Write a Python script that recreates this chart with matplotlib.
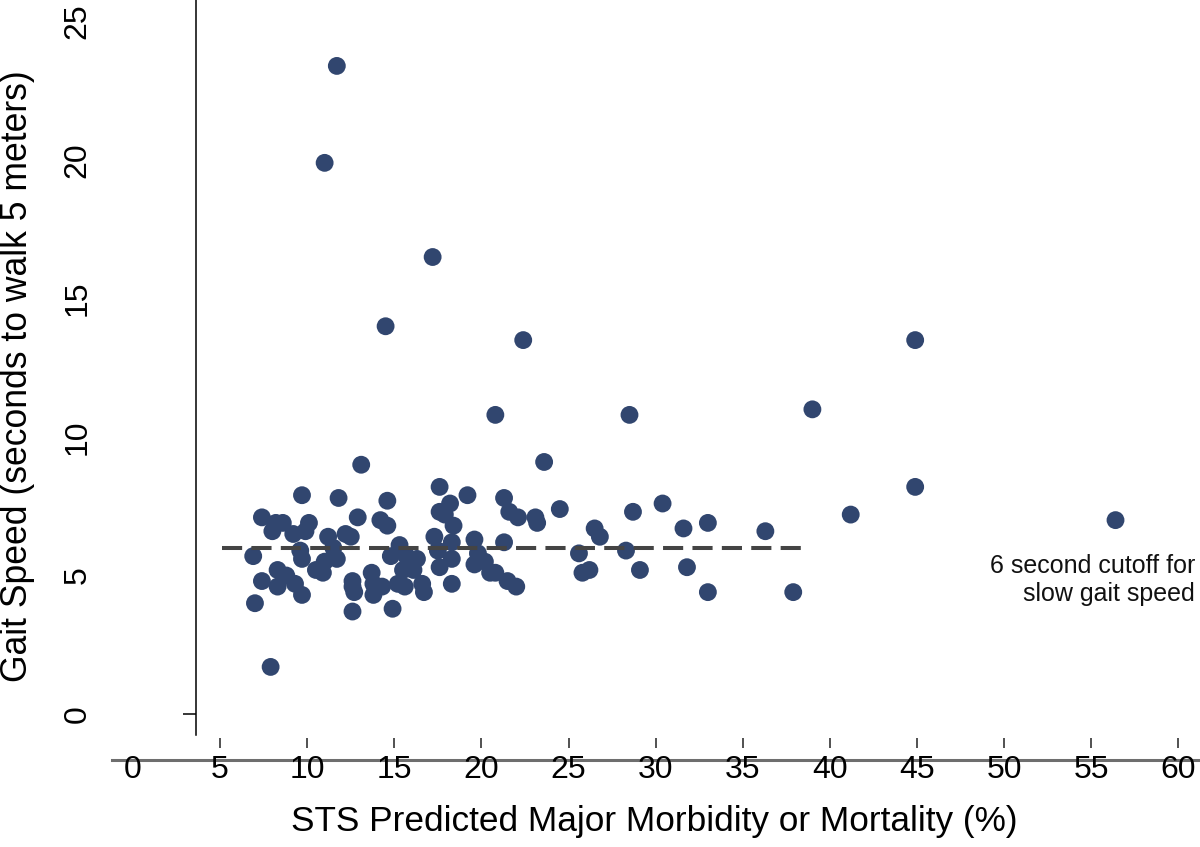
import numpy as np
import matplotlib.pyplot as plt

plt.rcParams['font.family'] = ['Liberation Sans', 'DejaVu Sans']

# STS predicted risk (%) vs. seconds to walk 5 m
sts_risk = [11.7, 11.0, 17.2, 14.5, 22.4, 44.9, 39.0, 28.5, 20.8, 23.6,
            13.1, 44.9, 41.2, 56.4, 30.4, 28.7, 24.5, 23.1, 23.2, 21.3,
            21.6, 22.1, 21.3, 20.8, 21.5, 22.0, 26.5, 26.8, 25.6, 25.8,
            26.2, 28.3, 29.1, 31.6, 33.0, 36.3, 31.8, 33.0, 37.9, 20.2,
            9.7, 11.8, 14.6, 17.6, 19.2, 7.4, 8.2, 8.6, 8.0, 9.2,
            9.9, 10.1, 12.9, 14.2, 14.6, 17.6, 18.2, 18.4, 17.9, 11.2,
            11.5, 12.2, 12.5, 6.9, 9.6, 9.7, 11.0, 11.7, 10.5, 10.9,
            8.3, 8.8, 9.3, 7.4, 8.3, 9.7, 7.0, 12.6, 12.6, 12.7,
            13.7, 13.8, 13.8, 14.3, 12.6, 14.9, 14.8, 15.3, 15.7, 15.5,
            16.1, 16.3, 16.6, 15.2, 15.8, 15.6, 16.7, 17.3, 17.5, 17.6,
            18.3, 18.3, 18.3, 19.6, 19.8, 19.6, 20.5, 7.9]
gait_sec = [23.4, 19.9, 16.5, 14.0, 13.5, 13.5, 11.0, 10.8, 10.8, 9.1,
            9.0, 8.2, 7.2, 7.0, 7.6, 7.3, 7.4, 7.1, 6.9, 7.8,
            7.3, 7.1, 6.2, 5.1, 4.8, 4.6, 6.7, 6.4, 5.8, 5.1,
            5.2, 5.9, 5.2, 6.7, 6.9, 6.6, 5.3, 4.4, 4.4, 5.5,
            7.9, 7.8, 7.7, 8.2, 7.9, 7.1, 6.9, 6.9, 6.6, 6.5,
            6.6, 6.9, 7.1, 7.0, 6.8, 7.3, 7.6, 6.8, 7.2, 6.4,
            6.0, 6.5, 6.4, 5.7, 5.9, 5.6, 5.5, 5.6, 5.2, 5.1,
            5.2, 5.0, 4.7, 4.8, 4.6, 4.3, 4.0, 4.8, 4.6, 4.4,
            5.1, 4.7, 4.3, 4.6, 3.7, 3.8, 5.7, 6.1, 5.7, 5.2,
            5.2, 5.6, 4.7, 4.7, 5.3, 4.6, 4.4, 6.4, 5.9, 5.3,
            6.2, 5.6, 4.7, 6.3, 5.8, 5.4, 5.1, 1.7]

cutoff_x = [5.1, 38.6]
cutoff_y = 6

x_ticks = list(range(0, 61, 5))
y_ticks = list(range(0, 26, 5))

fig = plt.figure(figsize=(12, 8.47), dpi=100)
ax = fig.add_axes([112 / 1200, 87 / 847, 1088 / 1200, 760 / 847])
ax.set_xlim(-1.206, 61.25)
ax.set_ylim(-1.661, 25.78)

ax.scatter(sts_risk, gait_sec, s=165, color='#31466f', edgecolors='none', zorder=2)
ax.plot(cutoff_x, [cutoff_y, cutoff_y], color='#444444', lw=2.9,
        dashes=(5, 2.3), zorder=3)

ax.text(60.96, 4.84, '6 second cutoff for\nslow gait speed', ha='right', va='center',
        multialignment='right', fontsize=18, linespacing=1.2, color='#111111')

# axes styling
ax.spines['top'].set_visible(False)
ax.spines['right'].set_visible(False)
ax.spines['bottom'].set_position(('data', -1.227))
ax.spines['bottom'].set_color('none')
ax.spines['left'].set_position(('data', 3.62))
ax.spines['left'].set_bounds(-0.76, 25.78)
ax.spines['left'].set_linewidth(1.1)

ax.axhline(ax.get_ylim()[0], color='#6e6e6e', lw=2.2, clip_on=False, zorder=1)

ax.set_xticks(x_ticks)
ax.tick_params(axis='x', direction='in', length=7.2, width=1.1, color='#222222',
               labelsize=23, pad=5)
ax.xaxis.get_major_ticks()[0].tick1line.set_visible(False)

ax.set_yticks(y_ticks)
ax.tick_params(axis='y', direction='out', length=9.4, width=1.1, labelsize=23,
               pad=65, labelrotation=90)
for lab in ax.get_yticklabels():
    lab.set_va('center')
for t in ax.yaxis.get_major_ticks()[1:]:
    t.tick1line.set_visible(False)

ax.set_xlabel('STS Predicted Major Morbidity or Mortality (%)', fontsize=25.4)
ax.xaxis.set_label_coords(654 / 1200, 1 - 805 / 847, transform=fig.transFigure)
ax.set_ylabel('Gait Speed (seconds to walk 5 meters)', fontsize=25.6)
ax.yaxis.set_label_coords(18 / 1200, 1 - 376 / 847, transform=fig.transFigure)
ax.yaxis.label.set_va('center')

fig.savefig('out.png', dpi=100)
